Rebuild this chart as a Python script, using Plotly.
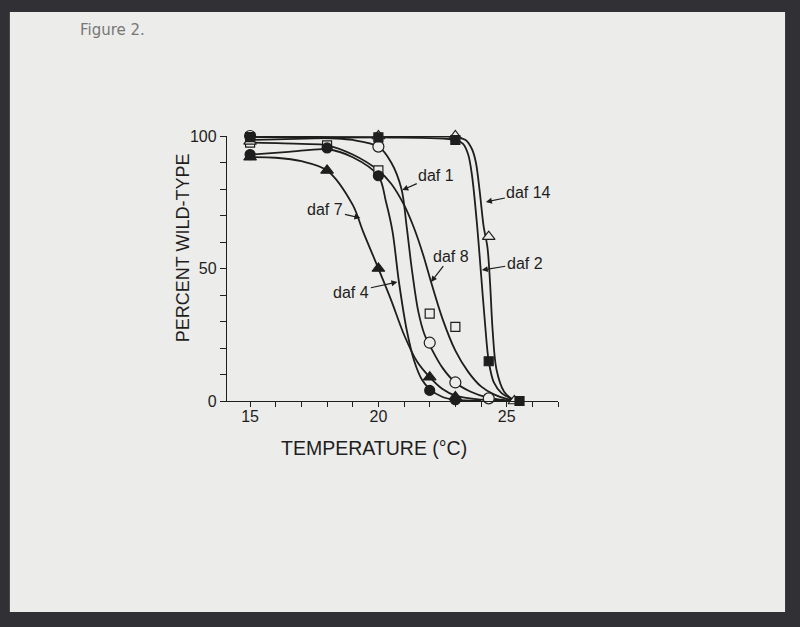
import plotly.graph_objects as go

# measured points (temperature in deg C, percent wild-type)
daf1_x = [15, 20, 22, 23, 24.3]
daf1_y = [100, 96, 22, 7, 1]
daf2_x = [15, 20, 23, 24.3, 25.5]
daf2_y = [99.6, 99.5, 98.5, 15, 0]
daf4_x = [15, 18, 20, 22, 23]
daf4_y = [93, 95.5, 85, 4, 0.5]
daf7_x = [15, 18, 20, 22, 23]
daf7_y = [92, 87, 50, 9, 1.5]
daf8_x = [15, 18, 20, 22, 23]
daf8_y = [97.5, 96.5, 87, 33, 28]
daf14_x = [15, 20, 23, 24.3, 25.3]
daf14_y = [98, 100, 100, 62, 0]

# hand-drawn fitted curves
curve1_x = [15, 17, 19, 20, 20.5, 20.9, 21.1, 21.3, 21.55, 21.8, 22, 22.5, 23, 23.6, 24.3, 25, 25.5]
curve1_y = [99.6, 99.5, 98.5, 96, 90, 80, 66, 50, 34, 25, 21, 12.5, 7, 3.5, 1.2, 0.3, 0]
curve2_x = [15, 20, 23, 23.3, 23.5, 23.65, 23.85, 24.0, 24.15, 24.3, 24.5, 24.8, 25.2, 25.5]
curve2_y = [99.6, 99.5, 98.5, 97, 93, 85, 66, 48, 30, 15, 7, 3, 0.8, 0]
curve4_x = [15, 16.5, 18, 19, 20, 20.3, 20.55, 20.8, 21.1, 21.4, 21.7, 22, 22.5, 23, 24]
curve4_y = [93, 94, 95, 92, 85, 75, 64, 45, 27, 15, 8, 4.5, 1.5, 0.5, 0]
curve7_x = [15, 16, 17, 18, 19, 19.4, 20, 20.5, 21, 21.5, 22, 22.5, 23, 24, 25]
curve7_y = [92, 91.8, 90.5, 87, 74, 64, 50, 38, 25, 15, 9, 4.5, 2, 0.5, 0]
curve8_x = [15, 17, 18, 19, 20, 20.5, 21, 21.4, 21.75, 22.05, 22.5, 23, 23.5, 24, 24.5, 25, 25.5]
curve8_y = [97.5, 97, 96.5, 93, 87, 82, 74, 65, 55, 45, 31, 19, 11, 5.5, 2.5, 0.8, 0]
curve14_x = [15, 20, 23, 23.4, 23.65, 23.8, 23.95, 24.1, 24.25, 24.35, 24.45, 24.6, 24.9, 25.3]
curve14_y = [98.5, 99.6, 99.6, 98.5, 95, 90, 79, 66, 58, 45, 27, 12, 3.5, 0]

x_ticks = list(range(15, 28))
x_labels = ["15", "", "", "", "", "20", "", "", "", "", "25", "", ""]
y_ticks = list(range(0, 101, 10))
y_labels = ["0", "", "", "", "", "50", "", "", "", "", "100"]

INK = "#1e1e1e"
PAGE = "#ececea"
BED = "#303035"
FONT = "Liberation Sans, Arial, sans-serif"

fig = go.Figure()

for cx, cy in [(curve1_x, curve1_y), (curve2_x, curve2_y), (curve4_x, curve4_y),
               (curve7_x, curve7_y), (curve8_x, curve8_y), (curve14_x, curve14_y)]:
    fig.add_trace(go.Scatter(
        x=cx, y=cy, mode="lines", line=dict(color=INK, width=1.8, shape="spline", smoothing=0.9),
        showlegend=False, hoverinfo="skip",
    ))

markers = [
    ("daf 8", daf8_x, daf8_y, "square", 9, PAGE),
    ("daf 14", daf14_x, daf14_y, "triangle-up", 11, PAGE),
    ("daf 1", daf1_x, daf1_y, "circle", 11, PAGE),
    ("daf 4", daf4_x, daf4_y, "circle", 10, INK),
    ("daf 7", daf7_x, daf7_y, "triangle-up", 11, INK),
    ("daf 2", daf2_x, daf2_y, "square", 9, INK),
]
for name, mx, my, sym, size, fill in markers:
    fig.add_trace(go.Scatter(
        x=mx, y=my, mode="markers", name=name, cliponaxis=False,
        marker=dict(symbol=sym, size=size, color=fill, line=dict(color=INK, width=1.2)),
        showlegend=False,
    ))

# curve labels with arrows (tip on the curve, text offset in px)
labels = [
    ("daf 1", 20.93, 79.6, 34, -15),
    ("daf 14", 24.19, 75.1, 43, -9),
    ("daf 2", 24.03, 49.4, 43, -7),
    ("daf 8", 22.05, 44.9, 20, -26),
    ("daf 7", 19.30, 69.1, -35, -8),
    ("daf 4", 20.74, 44.9, -46, 10),
]
for text, x, y, ax, ay in labels:
    fig.add_annotation(
        x=x, y=y, ax=ax, ay=ay, text=text, showarrow=True,
        arrowhead=2, arrowsize=1, arrowwidth=1.2, arrowcolor=INK,
        font=dict(family=FONT, size=16, color=INK),
    )

# axis titles sit off-centre in the original, so place them by hand
fig.add_annotation(
    xref="paper", yref="paper", x=0.443, y=-0.177, xanchor="center", yanchor="middle",
    text="TEMPERATURE (°C)", showarrow=False, font=dict(family=FONT, size=19.5, color=INK),
)
fig.add_annotation(
    xref="paper", yref="paper", x=-0.133, y=0.58, xanchor="center", yanchor="middle",
    text="PERCENT WILD-TYPE", showarrow=False, textangle=-90,
    font=dict(family=FONT, size=18, color=INK),
)

# scanned page on a dark scanner bed
fig.add_shape(type="rect", xref="paper", yref="paper", x0=-0.656, x1=1.686, y0=-0.796, y1=1.468,
              fillcolor=PAGE, line=dict(width=0), layer="below")
fig.add_annotation(
    xref="paper", yref="paper", x=-0.45, y=1.40, xanchor="left", yanchor="middle",
    text="Figure 2.", showarrow=False, font=dict(family="DejaVu Sans", size=15, color="#777777"),
)

fig.update_layout(
    width=800, height=627,
    margin=dict(l=227, r=242, t=136, b=226),
    paper_bgcolor=BED, plot_bgcolor="rgba(0,0,0,0)",
    font=dict(family=FONT, size=16, color=INK),
    showlegend=False,
)
fig.update_xaxes(
    range=[14.1, 27], tickvals=x_ticks, ticktext=x_labels,
    ticks="outside", ticklen=5, tickwidth=1.2, tickcolor=INK,
    showline=True, linecolor=INK, linewidth=1.3, showgrid=False, zeroline=False,
    tickfont=dict(size=16), ticklabelstandoff=-4,
)
fig.update_yaxes(
    range=[0, 100], tickvals=y_ticks, ticktext=y_labels,
    ticks="outside", ticklen=6, tickwidth=1.2, tickcolor=INK,
    showline=True, linecolor=INK, linewidth=1.3, showgrid=False, zeroline=False,
    tickfont=dict(size=16),
)

fig.write_html(
    "out.html",
    config={"displayModeBar": False},
    post_script="document.body.style.margin='0';document.body.style.background='" + BED + "';",
)
